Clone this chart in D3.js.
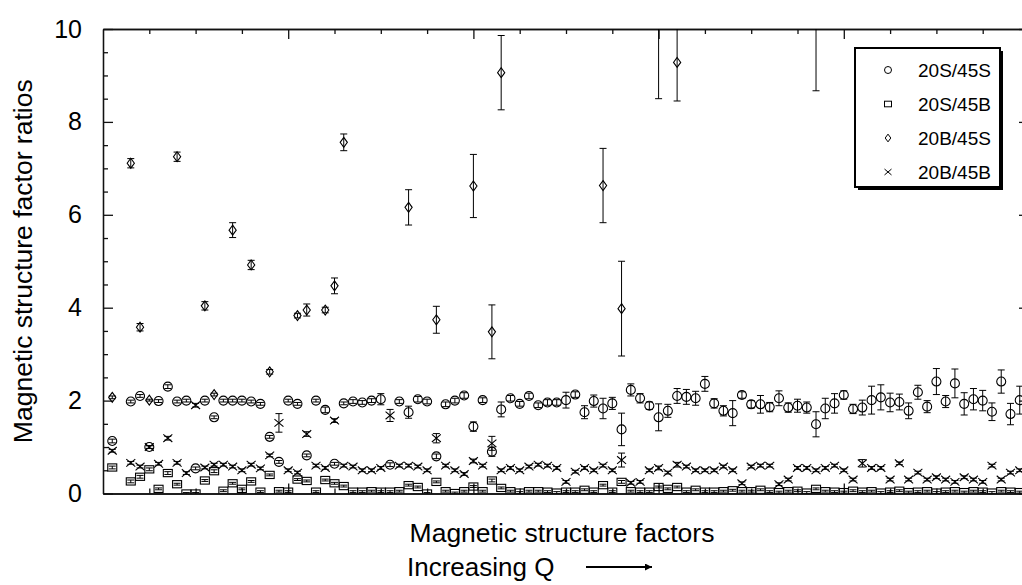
<!DOCTYPE html>
<html><head><meta charset="utf-8">
<script src="https://cdn.jsdelivr.net/npm/d3@7"></script>
<style>body{margin:0;background:#fff} svg text{font-family:Arial,"Liberation Sans",Helvetica,sans-serif;fill:#000}</style>
</head><body><svg id="chart" width="1022" height="585"></svg>
<script>
// ---- data : [factor index, ratio, error] ----
const s20S45S = [
[1,1.13,0.04],[3,1.98,0.03],[4,2.10,0.03],[5,1.0,0.03],[6,1.99,0.03],[7,2.30,0.04],[8,1.98,0.03],[9,2.0,0.03],[10,0.54,0.03],
[11,2.0,0.03],[12,1.64,0.03],[13,2.0,0.03],[14,2.0,0.03],[15,2.0,0.03],[16,1.98,0.03],[17,1.93,0.03],[18,1.22,0.03],
[19,0.68,0.03],[20,2.0,0.03],[21,1.93,0.03],[22,0.82,0.03],[23,2.0,0.03],[24,1.8,0.06],[25,0.64,0.03],[26,1.94,0.03],[27,1.98,0.04],[28,1.96,0.04],[29,2.0,0.04],
[30,2.03,0.12],[31,0.62,0.04],[32,1.98,0.04],[33,1.75,0.13],[34,2.03,0.06],[35,1.98,0.05],[36,0.8,0.05],[37,1.92,0.05],[38,2.0,0.05],[39,2.11,0.06],
[40,1.44,0.1],[41,2.01,0.05],[42,0.9,0.1],[43,1.81,0.16],[44,2.05,0.06],[45,1.93,0.05],[46,2.1,0.06],[47,1.9,0.05],[48,1.96,0.06],
[49,1.96,0.06],[50,2.01,0.17],[51,2.13,0.06],[52,1.75,0.14],[53,1.99,0.13],[54,1.83,0.22],[55,1.94,0.13],[56,1.38,0.35],
[57,2.23,0.13],[58,2.05,0.1],[59,1.89,0.08],[60,1.64,0.29],[61,1.78,0.14],[62,2.1,0.16],[63,2.08,0.16],[64,2.05,0.15],
[65,2.36,0.16],[66,1.94,0.1],[67,1.78,0.11],[68,1.73,0.27],[69,2.12,0.07],[70,1.92,0.08],[71,1.92,0.19],[72,1.86,0.1],
[73,2.05,0.16],[74,1.85,0.1],[75,1.89,0.14],[76,1.85,0.12],[77,1.49,0.27],[78,1.83,0.22],[79,1.94,0.21],[80,2.12,0.09],
[81,1.82,0.1],[82,1.85,0.16],[83,2.01,0.3],[84,2.07,0.27],[85,1.96,0.2],[86,1.97,0.17],[87,1.78,0.17],[88,2.18,0.15],
[89,1.87,0.13],[90,2.41,0.28],[91,1.98,0.13],[92,2.37,0.31],[93,1.93,0.24],[94,2.03,0.23],[95,2.0,0.22],[96,1.76,0.19],
[97,2.41,0.25],[98,1.71,0.23],[99,2.01,0.3]
];
const s20S45B = [
[1,0.56,0.03],[3,0.26,0.03],[4,0.36,0.03],[5,0.52,0.03],[6,0.1,0.02],[7,0.44,0.03],[8,0.2,0.02],[9,0.0,0.02],[10,0.0,0.02],
[11,0.28,0.02],[12,0.48,0.03],[13,0.06,0.02],[14,0.22,0.02],[15,0.1,0.02],[16,0.26,0.02],[17,0.04,0.02],[18,0.4,0.02],
[19,0.05,0.02],[20,0.04,0.02],[21,0.3,0.02],[22,0.27,0.02],[23,0.04,0.02],[24,0.29,0.02],[25,0.22,0.02],[26,0.16,0.02],
[27,0.04,0.02],[28,0.04,0.02],[29,0.05,0.02],[30,0.04,0.02],[31,0.04,0.02],[32,0.05,0.02],[33,0.18,0.02],[34,0.14,0.02],
[35,0.0,0.02],[36,0.25,0.02],[37,0.05,0.02],[38,0.01,0.02],[39,0.05,0.02],[40,0.15,0.02],[41,0.05,0.02],[42,0.28,0.03],
[43,0.12,0.02],[44,0.05,0.02],[45,0.02,0.02],[46,0.05,0.02],[47,0.05,0.02],[48,0.04,0.02],[49,0.02,0.02],[50,0.04,0.02],
[51,0.04,0.02],[52,0.08,0.02],[53,0.04,0.02],[54,0.18,0.02],[55,0.04,0.02],[56,0.25,0.03],[57,0.05,0.02],[58,0.04,0.02],
[59,0.04,0.02],[60,0.14,0.02],[61,0.1,0.02],[62,0.14,0.02],[63,0.04,0.02],[64,0.08,0.02],[65,0.04,0.02],[66,0.04,0.02],
[67,0.05,0.02],[68,0.07,0.02],[69,0.05,0.02],[70,0.05,0.02],[71,0.08,0.02],[72,0.04,0.02],[73,0.03,0.02],[74,0.05,0.02],
[75,0.06,0.02],[76,0.02,0.02],[77,0.1,0.02],[78,0.05,0.02],[79,0.04,0.02],[80,0.03,0.02],[81,0.06,0.02],[82,0.04,0.02],
[83,0.05,0.02],[84,0.02,0.02],[85,0.04,0.02],[86,0.06,0.02],[87,0.03,0.02],[88,0.04,0.02],[89,0.05,0.02],[90,0.02,0.02],
[91,0.04,0.02],[92,0.05,0.02],[93,0.03,0.02],[94,0.05,0.02],[95,0.04,0.02],[96,0.02,0.02],[97,0.05,0.02],[98,0.04,0.02],[99,0.03,0.02]
];
const s20B45S = [
[1,2.07,0.03],[3,7.11,0.1],[4,3.58,0.08],[5,2.01,0.02],[8,7.25,0.1],[11,4.04,0.09],[12,2.13,0.03],[14,5.67,0.16],
[16,4.92,0.1],[18,2.62,0.05],[21,3.83,0.05],[22,3.95,0.13],[24,3.95,0.06],[25,4.47,0.17],[26,7.56,0.18],[33,6.16,0.38],
[36,3.74,0.29],[40,6.62,0.68],[42,3.48,0.58],[43,9.06,0.8],[54,6.63,0.8],[56,3.98,1.02],[60,11.0,2.5],[62,9.28,0.83],
[77,11.0,2.33]
];
const s20B45B = [
[1,0.92,0.03],[3,0.66,0.03],[4,0.58,0.03],[5,1.0,0.03],[6,0.64,0.03],[7,1.19,0.04],[8,0.66,0.03],[9,0.44,0.03],[10,1.9,0.04],
[11,0.56,0.03],[12,0.62,0.03],[13,0.62,0.03],[14,0.58,0.03],[15,0.5,0.03],[16,0.62,0.03],[17,0.54,0.03],[18,0.82,0.03],
[19,1.52,0.2],[20,0.5,0.03],[21,0.45,0.03],[22,1.28,0.05],[23,0.6,0.03],[24,0.55,0.03],[25,1.57,0.04],[26,0.6,0.03],
[27,0.58,0.03],[28,0.5,0.03],[29,0.5,0.03],[30,0.55,0.03],[31,1.68,0.13],[32,0.6,0.03],[33,0.6,0.03],[34,0.58,0.03],
[35,0.5,0.03],[36,1.19,0.1],[37,0.6,0.03],[38,0.5,0.03],[39,0.42,0.03],[40,0.7,0.04],[41,0.6,0.03],[42,1.08,0.15],
[43,0.5,0.03],[44,0.55,0.03],[45,0.5,0.03],[46,0.58,0.03],[47,0.62,0.03],[48,0.6,0.03],[49,0.55,0.03],[50,0.25,0.03],
[51,0.47,0.03],[52,0.55,0.03],[53,0.5,0.03],[54,0.6,0.03],[55,0.5,0.03],[56,0.72,0.15],[57,0.23,0.03],[58,0.25,0.03],
[59,0.5,0.03],[60,0.55,0.04],[61,0.45,0.03],[62,0.62,0.05],[63,0.58,0.03],[64,0.5,0.03],[65,0.5,0.03],[66,0.5,0.03],
[67,0.58,0.03],[68,0.5,0.03],[69,0.22,0.03],[70,0.58,0.03],[71,0.6,0.03],[72,0.6,0.03],[73,0.2,0.03],[74,0.3,0.03],
[75,0.55,0.03],[76,0.55,0.03],[77,0.5,0.03],[78,0.55,0.03],[79,0.6,0.03],[80,0.5,0.03],[81,0.3,0.03],[82,0.65,0.08],
[83,0.55,0.03],[84,0.55,0.03],[85,0.3,0.03],[86,0.65,0.03],[87,0.3,0.03],[88,0.45,0.03],[89,0.3,0.03],[90,0.35,0.03],
[91,0.3,0.03],[92,0.25,0.03],[93,0.35,0.03],[94,0.3,0.03],[95,0.25,0.03],[96,0.6,0.03],[97,0.3,0.03],[98,0.45,0.03],[99,0.5,0.03]
];
const seriesNames = ["20S/45S","20S/45B","20B/45S","20B/45B"];
const yTicksMajor = [0,2,4,6,8,10];
const yTicksMinor = [0.5,1,1.5,2.5,3,3.5,4.5,5,5.5,6.5,7,7.5,8.5,9,9.5];
const xTicksMajor = [20,40,60,80];
const xTicksMinor = [5,10,15,25,30,35,45,50,55,65,70,75,85,90,95];
const xTitle = "Magnetic structure factors";
const xSub = "Increasing Q";
const yTitle = "Magnetic structure factor ratios";

// ---- drawing ----
const svg = d3.select("#chart");
const L=103, R=1029, T=29, B=493.5;
const x = d3.scaleLinear().domain([0,100]).range([L,R]);
const y = d3.scaleLinear().domain([0,10]).range([B,T]);

const defs = svg.append("defs");
defs.append("clipPath").attr("id","clip")
  .append("rect").attr("x",L).attr("y",T).attr("width",R-L).attr("height",B-T);
defs.append("marker").attr("id","arrow").attr("viewBox","0 0 10 10").attr("refX",10).attr("refY",5)
  .attr("markerWidth",10).attr("markerHeight",7).attr("markerUnits","userSpaceOnUse").attr("orient","auto")
  .append("path").attr("d","M0,0L10,5L0,10Z").attr("fill","#000");

function styleAxis(g){ g.selectAll("path,line").attr("stroke","#111").attr("stroke-width",1.3); g.selectAll("text").remove(); }
function ax(gen, tx, ty, vals, size){
  svg.append("g").attr("transform",`translate(${tx},${ty})`).call(gen.tickValues(vals).tickSize(size).tickSizeOuter(0)).call(styleAxis);
}
ax(d3.axisRight(y),L,0,yTicksMajor,10); ax(d3.axisRight(y),L,0,yTicksMinor,5);
ax(d3.axisLeft(y),R,0,yTicksMajor,10);  ax(d3.axisLeft(y),R,0,yTicksMinor,5);
ax(d3.axisBottom(x),0,T,xTicksMajor,10); ax(d3.axisBottom(x),0,T,xTicksMinor,5);
ax(d3.axisTop(x),0,B,xTicksMajor,10);   ax(d3.axisTop(x),0,B,xTicksMinor,5);

const yl = svg.append("g").attr("transform",`translate(${L},0)`).call(d3.axisLeft(y).tickValues(yTicksMajor).tickSize(0).tickPadding(21));
yl.select(".domain").remove();
yl.selectAll("text").attr("font-size",25).attr("font-family","Arial,'Liberation Sans',sans-serif").attr("fill","#000");

svg.append("text").attr("transform",`translate(32,${(T+B)/2}) rotate(-90)`).attr("text-anchor","middle")
  .attr("font-size",26.5).text(yTitle);
svg.append("text").attr("x",562).attr("y",542).attr("text-anchor","middle").attr("font-size",26.5).text(xTitle);
svg.append("text").attr("x",407).attr("y",576).attr("font-size",26).text(xSub);
svg.append("line").attr("x1",586).attr("x2",652).attr("y1",567).attr("y2",567).attr("stroke","#000").attr("stroke-width",2).attr("marker-end","url(#arrow)");

// marks
const plot = svg.append("g").attr("clip-path","url(#clip)");
const shapes = {
  "20S/45S": (g,s)=>g.append("circle").attr("r",s*0.5),
  "20S/45B": (g,s)=>g.append("rect").attr("x",-s*0.5).attr("y",-s*0.4).attr("width",s).attr("height",s*0.8),
  "20B/45S": (g,s)=>g.append("path").attr("d",`M0,${-s*0.55}L${s*0.4},0L0,${s*0.55}L${-s*0.4},0Z`),
  "20B/45B": (g,s)=>g.append("path").attr("d",`M${-s*0.5},${-s*0.42}L${s*0.5},${s*0.42}M${-s*0.5},${s*0.42}L${s*0.5},${-s*0.42}`)
};
const allData = [s20S45S,s20S45B,s20B45S,s20B45B];
allData.forEach((data,k)=>{
  const name = seriesNames[k];
  const g = plot.append("g");
  data.forEach(([i,v,e])=>{
    const px=x(i), py=y(v), y1=y(v+e), y0=y(v-e);
    const eb = g.append("g").attr("stroke","#000").attr("stroke-width",1);
    eb.append("line").attr("x1",px).attr("x2",px).attr("y1",y1).attr("y2",y0);
    eb.append("line").attr("x1",px-3.5).attr("x2",px+3.5).attr("y1",y1).attr("y2",y1);
    eb.append("line").attr("x1",px-3.5).attr("x2",px+3.5).attr("y1",y0).attr("y2",y0);
    const m = g.append("g").attr("transform",`translate(${px},${py})`).attr("fill","none").attr("stroke","#000").attr("stroke-width",1.1);
    shapes[name](m,9);
  });
});

// legend
const lg = svg.append("g");
lg.append("rect").attr("x",858).attr("y",51).attr("width",145).attr("height",139).attr("fill","#000");
lg.append("rect").attr("x",855).attr("y",48).attr("width",145).attr("height",139).attr("fill","#fff").attr("stroke","#000").attr("stroke-width",2);
seriesNames.forEach((n,k)=>{
  const yy = 70 + k*34;
  const m = lg.append("g").attr("transform",`translate(888,${yy})`).attr("fill","none").attr("stroke","#000").attr("stroke-width",1);
  shapes[n](m,7);
  lg.append("text").attr("x",918).attr("y",yy+7).attr("font-size",19).text(n);
});
</script></body></html>
